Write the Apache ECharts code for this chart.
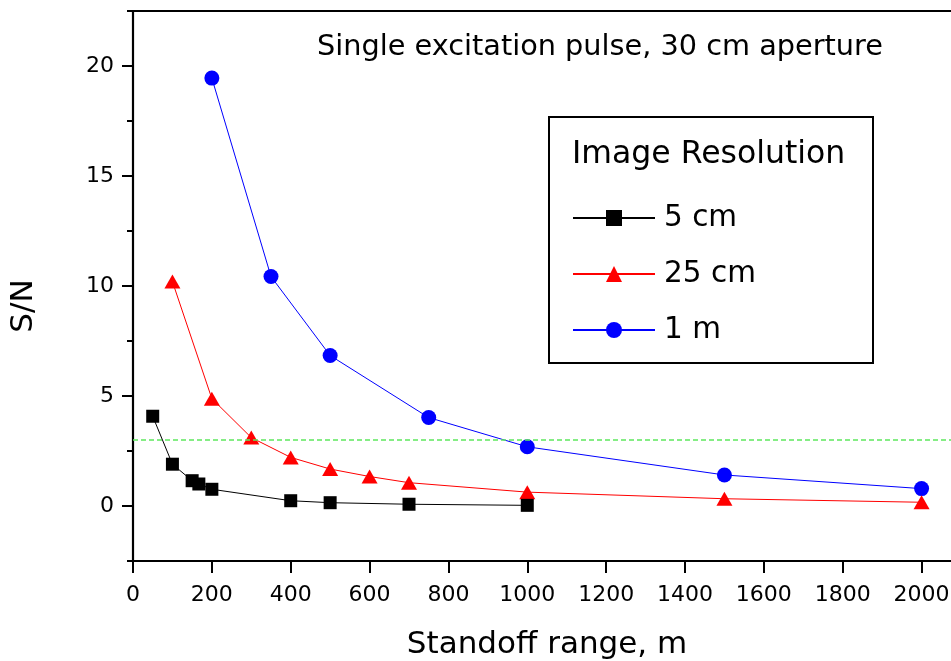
<!DOCTYPE html>
<html>
<head>
<meta charset="utf-8">
<script src="https://cdn.jsdelivr.net/npm/echarts@6/dist/echarts.min.js"></script>
<style>
html,body{margin:0;padding:0;background:#fff;}
#c{width:951px;height:661px;}
</style>
</head>
<body>
<div id="c"></div>
<script>
// ---- data ----
const seriesNames = ['5 cm', '25 cm', '1 m'];
const x5cm = [50, 100, 150, 167, 200, 400, 500, 700, 1000];
const y5cm = [4.08, 1.90, 1.15, 1.00, 0.76, 0.24, 0.15, 0.08, 0.03];
const x25cm = [100, 200, 300, 400, 500, 600, 700, 1000, 1500, 2000];
const y25cm = [10.2, 4.88, 3.11, 2.21, 1.68, 1.34, 1.06, 0.63, 0.33, 0.17];
const x1m = [200, 350, 500, 750, 1000, 1500, 2000];
const y1m = [19.45, 10.43, 6.84, 4.02, 2.69, 1.41, 0.79];
const thresholdSN = 3;
const xTickLabels = ['0', '200', '400', '600', '800', '1000', '1200', '1400', '1600', '1800', '2000'];
const yTickLabels = ['0', '5', '10', '15', '20'];
const chartTitle = 'Single excitation pulse, 30 cm aperture';
const xName = 'Standoff range, m';
const yName = 'S/N';
const legendTitle = 'Image Resolution';

const FONT = 'DejaVu Sans';
const pairs = (xs, ys) => xs.map((x, i) => [x, ys[i]]);
const ls = (w) => ({color: '#000', width: w});

const chart = echarts.init(document.getElementById('c'), null, {renderer: 'canvas'});

const option = {
  animation: false,
  backgroundColor: '#fff',
  grid: [
    // main plot: y from -2.5 to 22.5 (22 px per unit)
    {left: 133, top: 11, right: -10, bottom: 100, containLabel: false, outerBoundsMode: 'none'},
    // overlay grid spanning y = 0 .. 20 exactly, for the major ticks and labels
    {left: 133, top: 66, right: -10, bottom: 155, containLabel: false, outerBoundsMode: 'none'}
  ],
  xAxis: [
    {
      gridIndex: 0, type: 'value', position: 'bottom', min: 0, max: 2100, interval: 200,
      axisLine: {show: true, onZero: false, lineStyle: ls(2)},
      axisTick: {show: true, length: 12, lineStyle: ls(2)},
      axisLabel: {
        show: true, margin: 23, color: '#000', fontFamily: FONT, fontSize: 22,
        formatter: (v) => (xTickLabels.indexOf(String(v)) >= 0 ? String(v) : '')
      },
      splitLine: {show: false},
      name: xName, nameLocation: 'middle', nameGap: 68,
      nameTextStyle: {color: '#000', fontFamily: FONT, fontSize: 31}
    },
    {
      gridIndex: 0, type: 'value', position: 'top', min: 0, max: 2100, interval: 200,
      axisLine: {show: true, onZero: false, lineStyle: ls(2)},
      axisTick: {show: false}, axisLabel: {show: false}, splitLine: {show: false}
    },
    {
      gridIndex: 1, type: 'value', position: 'bottom', min: 0, max: 2100, show: false
    }
  ],
  yAxis: [
    {
      gridIndex: 0, type: 'value', position: 'left', min: -2.5, max: 22.5, interval: 2.5,
      axisLine: {show: true, onZero: false, lineStyle: ls(2.2)},
      axisTick: {show: true, length: 6, lineStyle: ls(2)},
      axisLabel: {show: false}, splitLine: {show: false}
    },
    {
      gridIndex: 1, type: 'value', position: 'left', min: 0, max: 20, interval: 5,
      axisLine: {show: false, onZero: false},
      axisTick: {show: true, length: 11, lineStyle: ls(2)},
      axisLabel: {
        show: true, margin: 19, color: '#000', fontFamily: FONT, fontSize: 22,
        formatter: (v) => (yTickLabels.indexOf(String(v)) >= 0 ? String(v) : '')
      },
      splitLine: {show: false}
    }
  ],
  legend: {
    orient: 'vertical', left: 572, top: 203, padding: 0,
    itemWidth: 82, itemHeight: 20, itemGap: 26,
    selectedMode: false,
    data: seriesNames,
    textStyle: {color: '#000', fontFamily: FONT, fontSize: 29.5, padding: [0, 0, 0, 4]}
  },
  graphic: [
    {type: 'rect', shape: {x: 549, y: 117, width: 324, height: 246},
     style: {fill: 'none', stroke: '#000', lineWidth: 2}, silent: true},
    {type: 'text', x: 572, y: 155, silent: true,
     style: {text: legendTitle, fill: '#000', fontFamily: FONT, fontSize: 31.5, textVerticalAlign: 'middle'}},
    {type: 'text', x: 317, y: 48, silent: true,
     style: {text: chartTitle, fill: '#000', fontFamily: FONT, fontSize: 28.75, textVerticalAlign: 'middle'}},
    {type: 'text', x: 24, y: 306, rotation: Math.PI / 2, silent: true,
     style: {text: yName, fill: '#000', fontFamily: FONT, fontSize: 31, textAlign: 'center', textVerticalAlign: 'middle'}}
  ],
  series: [
    {
      name: seriesNames[0], type: 'line', xAxisIndex: 0, yAxisIndex: 0, data: pairs(x5cm, y5cm),
      symbol: 'rect', symbolSize: 13, z: 5,
      itemStyle: {color: '#000'}, lineStyle: {color: '#000', width: 1},
      emphasis: {disabled: true},
      markLine: {
        silent: true, symbol: ['none', 'none'], label: {show: false},
        lineStyle: {color: '#5ee85e', type: [5, 3], width: 1.5},
        data: [{yAxis: thresholdSN}]
      }
    },
    {
      name: seriesNames[1], type: 'line', xAxisIndex: 0, yAxisIndex: 0, data: pairs(x25cm, y25cm),
      symbol: 'triangle', symbolSize: [16, 14], z: 4,
      itemStyle: {color: '#ff0000'}, lineStyle: {color: '#ff0000', width: 1},
      emphasis: {disabled: true}
    },
    {
      name: seriesNames[2], type: 'line', xAxisIndex: 0, yAxisIndex: 0, data: pairs(x1m, y1m),
      symbol: 'circle', symbolSize: 15, z: 3,
      itemStyle: {color: '#0000ff'}, lineStyle: {color: '#0000ff', width: 1},
      emphasis: {disabled: true}
    }
  ]
};

chart.setOption(option);
</script>
</body>
</html>
